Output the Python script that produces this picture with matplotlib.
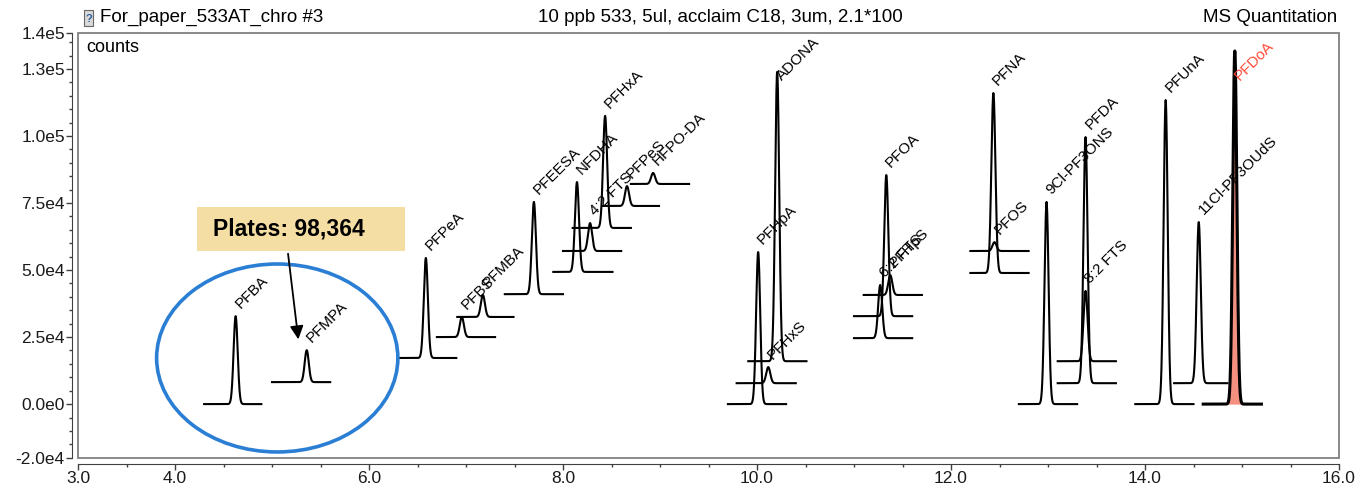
import numpy as np
import matplotlib.pyplot as plt
from matplotlib.patches import Ellipse, Rectangle

plt.rcParams['font.family'] = ['Liberation Sans', 'DejaVu Sans']

# peak table (retention time in min, counts)
names = ['PFBA', 'PFMPA', 'PFPeA', 'PFBS', 'PFMBA', 'PFEESA', 'NFDHA', '4:2 FTS',
         'PFHxA', 'PFPeS', 'HFPO-DA', 'PFHpA', 'PFHxS', 'ADONA', '6:2 FTS', 'PFOA',
         'PFHpS', 'PFNA', 'PFOS', '9Cl-PF3ONS', 'PFDA', '8:2 FTS', 'PFUnA',
         '11Cl-PF3OUdS', 'PFDoA']
rt = [4.625, 5.358, 6.586, 6.957, 7.174, 7.70, 8.144, 8.279, 8.434, 8.66, 8.929,
      10.012, 10.116, 10.208, 11.27, 11.333, 11.374, 12.437, 12.448, 12.985,
      13.387, 13.387, 14.213, 14.554, 14.926]
seg_start = [4.30, 5.00, 6.30, 6.70, 6.91, 7.40, 7.90, 8.00, 8.10, 8.41, 8.70,
             9.70, 9.79, 9.91, 11.0, 11.0, 11.10, 12.20, 12.20, 12.70, 13.10,
             13.10, 13.90, 14.30, 14.60]
seg_end = [4.89, 5.60, 6.90, 7.30, 7.49, 8.00, 8.51, 8.60, 8.70, 8.99, 9.30,
           10.30, 10.40, 10.51, 11.60, 11.60, 11.70, 12.80, 12.80, 13.30, 13.70,
           13.70, 14.50, 14.85, 15.20]
baseline = [0, 8200, 17200, 25000, 32500, 41000, 49300, 57100, 65700, 73900, 82100,
            0, 7800, 16000, 24600, 32800, 40700, 48900, 57100, 0, 7800, 16000,
            0, 7800, 0]
apex = [32800, 20100, 54500, 32500, 40700, 75400, 82800, 67500, 107500, 81300,
        86200, 56700, 13800, 123900, 44400, 85400, 48100, 116000, 60400, 75400,
        99600, 42200, 113400, 67900, 131700]
sigma = 0.021
highlight = 'PFDoA'

xticks = [3, 4, 6, 8, 10, 12, 14, 16]
yticks = [-20100, 0, 25000, 50000, 75000, 100000, 125000, 138400]
ytick_labels = ['-2.0e4', '0.0e0', '2.5e4', '5.0e4', '7.5e4', '1.0e5', '1.3e5', '1.4e5']

W, H = 1361, 488
fig = plt.figure(figsize=(W / 100, H / 100), dpi=100)
ax = fig.add_axes([78 / W, 1 - 458 / H, (1339 - 78) / W, (458 - 33) / H])
ax.set_xlim(3, 16)
ax.set_ylim(-20100, 138400)

for i, name in enumerate(names):
    x = np.linspace(seg_start[i], seg_end[i], 500)
    y = baseline[i] + (apex[i] - baseline[i]) * np.exp(-0.5 * ((x - rt[i]) / sigma) ** 2)
    lw = 1.5
    col = 'black'
    if name == highlight:
        m = np.abs(x - rt[i]) < 0.07
        ax.fill_between(x[m], baseline[i], y[m], color='#f4907f', lw=0, zorder=2)
        lw = 2.2
        col = '#ff4c3b'
    ax.plot(x, y, color='black', lw=lw, zorder=3)
    ly = min(apex[i] + 2600, 120500)
    ax.annotate(name, (rt[i], ly), xytext=(5, -1.5), textcoords='offset points',
                rotation=45, rotation_mode='anchor', ha='left', va='bottom',
                fontsize=11, color=col, zorder=4)

# frame + offset axes
for s in ['top', 'right']:
    ax.spines[s].set_visible(False)
for s in ['left', 'bottom']:
    ax.spines[s].set_position(('outward', 4))
    ax.spines[s].set_color('#404040')
ax.add_patch(Rectangle((0, 0), 1, 1, transform=ax.transAxes, fill=False,
                       edgecolor='#808080', lw=1.3, clip_on=False, zorder=5))

ax.set_xticks(xticks)
ax.set_xticklabels(['%.1f' % v for v in xticks])
ax.set_xticks([v for v in np.arange(3, 16.01, 0.5) if v not in xticks], minor=True)
ax.set_yticks(yticks)
ax.set_yticklabels(ytick_labels)
ax.set_yticks([v for v in range(-15000, 136000, 5000) if v % 25000 != 0], minor=True)
ax.tick_params(which='both', direction='out', colors='#404040', labelcolor='#1a1a1a',
               labelsize=12.5, pad=1)
ax.tick_params(which='major', length=4.5, width=1)
ax.tick_params(which='minor', length=2.5, width=1)

# annotations
ax.add_patch(Ellipse((5.054, 17200), 2.487, 70100, fill=False, edgecolor='#2a7fd4',
                     lw=2.6, zorder=6))
ax.add_patch(Rectangle((4.223, 57100), 2.146, 16400, facecolor='#f5dea3',
                       edgecolor='none', zorder=6))
ax.text(4.388, 65300, 'Plates: 98,364', fontsize=16.5, fontweight='bold',
        va='center', ha='left', zorder=7)
ax.annotate('', xy=(5.275, 23100), xytext=(5.162, 57100),
            arrowprops=dict(arrowstyle='-|>', color='black', lw=1.3, mutation_scale=20),
            zorder=7)

# header
fig.add_artist(Rectangle((84 / W, 1 - 26 / H), 9 / W, 16 / H, transform=fig.transFigure,
                         facecolor='#d9d9d9', edgecolor='#666666', lw=0.8))
fig.text(88.5 / W, 1 - 18.5 / H, '?', ha='center', va='center', fontsize=8,
         color='#3060a0', fontweight='bold')
fig.text(100 / W, 1 - 17 / H, 'For_paper_533AT_chro #3', va='center', fontsize=13.5)
fig.text(720 / W, 1 - 17 / H, '10 ppb 533, 5ul, acclaim C18, 3um, 2.1*100',
         va='center', ha='center', fontsize=13.5)
fig.text(1337 / W, 1 - 17 / H, 'MS Quantitation', va='center', ha='right', fontsize=13.5)
fig.text(86 / W, 1 - 48 / H, 'counts', va='center', fontsize=13)

fig.savefig('out.png', dpi=100)
